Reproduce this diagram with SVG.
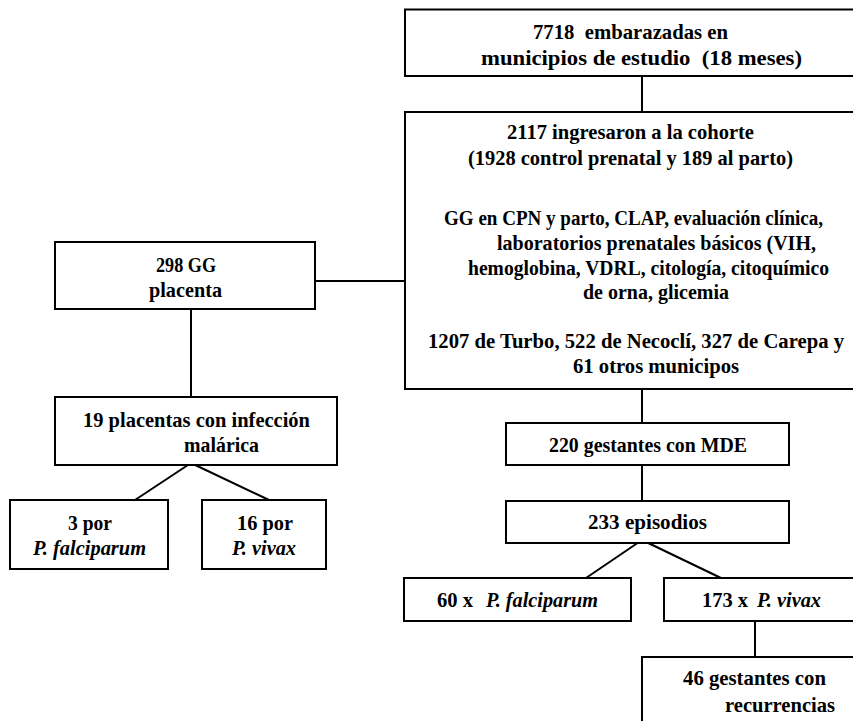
<svg xmlns="http://www.w3.org/2000/svg" width="853" height="721" viewBox="0 0 853 721">
<style>
.b{fill:#fff;stroke:#000;stroke-width:2}
.c{stroke:#000;stroke-width:2;fill:none}
text{font-family:"Liberation Serif","Times New Roman",serif;font-weight:bold;font-size:22px;fill:#000;white-space:pre}
.i{font-style:italic}
</style>
<rect width="853" height="721" fill="#fff"/>
<g id="connectors">
<line class="c" x1="642" y1="76" x2="642" y2="112"/>
<line class="c" x1="315" y1="281" x2="405" y2="281"/>
<line class="c" x1="191" y1="309" x2="191" y2="397"/>
<line class="c" x1="191" y1="463" x2="135" y2="500"/>
<line class="c" x1="191" y1="463" x2="269" y2="500"/>
<line class="c" x1="642" y1="389" x2="642" y2="423"/>
<line class="c" x1="642" y1="465" x2="642" y2="501"/>
<line class="c" x1="642" y1="540" x2="586" y2="578"/>
<line class="c" x1="642" y1="540" x2="721" y2="578"/>
<line class="c" x1="755" y1="621" x2="755" y2="657"/>
</g>
<g id="n7718">
<rect class="b" x="405" y="9.5" width="460" height="66.5"/>
<text x="533" y="39" textLength="195" lengthAdjust="spacingAndGlyphs">7718  embarazadas en</text>
<text x="481" y="65" textLength="321" lengthAdjust="spacingAndGlyphs">municipios de estudio  (18 meses)</text>
</g>
<g id="n2117">
<rect class="b" x="405" y="112" width="460" height="277"/>
<text x="507" y="139" textLength="247" lengthAdjust="spacingAndGlyphs">2117 ingresaron a la cohorte</text>
<text x="468" y="165" textLength="325" lengthAdjust="spacingAndGlyphs">(1928 control prenatal y 189 al parto)</text>
<text transform="translate(444,225) scale(0.86,1)" x="0" y="0" textLength="440.7" lengthAdjust="spacingAndGlyphs">GG en CPN y parto, CLAP, evaluación clínica,</text>
<text x="497" y="250" textLength="319" lengthAdjust="spacingAndGlyphs">laboratorios prenatales básicos (VIH,</text>
<text transform="translate(468,275) scale(0.89,1)" x="0" y="0" textLength="405.6" lengthAdjust="spacingAndGlyphs">hemoglobina, VDRL, citología, citoquímico</text>
<text x="583" y="299" textLength="146" lengthAdjust="spacingAndGlyphs">de orna, glicemia</text>
<text transform="translate(428,348) scale(0.935,1)" x="0" y="0" textLength="444.9" lengthAdjust="spacingAndGlyphs">1207 de Turbo, 522 de Necoclí, 327 de Carepa y</text>
<text x="573" y="373" textLength="166" lengthAdjust="spacingAndGlyphs">61 otros municipos</text>
</g>
<g id="n298">
<rect class="b" x="55" y="242" width="260" height="67"/>
<text x="156" y="272" textLength="60" lengthAdjust="spacingAndGlyphs">298 GG</text>
<text x="149" y="297" textLength="73" lengthAdjust="spacingAndGlyphs">placenta</text>
</g>
<g id="n19">
<rect class="b" x="55" y="397" width="282" height="68"/>
<text x="83" y="427" textLength="227" lengthAdjust="spacingAndGlyphs">19 placentas con infección</text>
<text x="184" y="452" textLength="75" lengthAdjust="spacingAndGlyphs">malárica</text>
</g>
<g id="n3">
<rect class="b" x="10" y="500" width="158" height="69"/>
<text x="68" y="530" textLength="44" lengthAdjust="spacingAndGlyphs">3 por</text>
<text class="i" x="33" y="555" textLength="113" lengthAdjust="spacingAndGlyphs">P. falciparum</text>
</g>
<g id="n16">
<rect class="b" x="202" y="500" width="124" height="69"/>
<text x="237" y="530" textLength="56" lengthAdjust="spacingAndGlyphs">16 por</text>
<text class="i" x="232" y="555" textLength="64" lengthAdjust="spacingAndGlyphs">P. vivax</text>
</g>
<g id="n220">
<rect class="b" x="506" y="423" width="283" height="42"/>
<text x="549" y="452" textLength="198" lengthAdjust="spacingAndGlyphs">220 gestantes con MDE</text>
</g>
<g id="n233">
<rect class="b" x="506" y="501" width="283" height="42"/>
<text x="588" y="529" textLength="119" lengthAdjust="spacingAndGlyphs">233 episodios</text>
</g>
<g id="n60">
<rect class="b" x="404" y="578" width="227" height="43"/>
<text x="437" y="607" textLength="36" lengthAdjust="spacingAndGlyphs">60 x</text>
<text class="i" x="486" y="607" textLength="112" lengthAdjust="spacingAndGlyphs">P. falciparum</text>
</g>
<g id="n173">
<rect class="b" x="664" y="578" width="200" height="43"/>
<text x="702" y="607" textLength="46" lengthAdjust="spacingAndGlyphs">173 x</text>
<text class="i" x="757" y="607" textLength="64" lengthAdjust="spacingAndGlyphs">P. vivax</text>
</g>
<g id="n46">
<rect class="b" x="642" y="657" width="220" height="80"/>
<text x="683" y="685" textLength="143" lengthAdjust="spacingAndGlyphs">46 gestantes con</text>
<text x="725" y="712" textLength="110" lengthAdjust="spacingAndGlyphs">recurrencias</text>
</g>
</svg>
